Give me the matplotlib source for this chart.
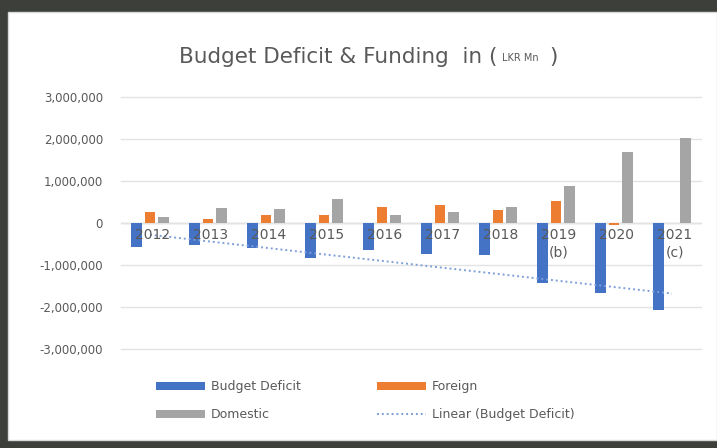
import numpy as np
import matplotlib.pyplot as plt
from matplotlib.patches import Rectangle

years = ["2012", "2013", "2014", "2015", "2016", "2017", "2018", "2019\n(b)", "2020", "2021\n(c)"]
budget_deficit = [-560000, -520000, -590000, -830000, -640000, -730000, -760000, -1440000, -1670000, -2060000]
foreign = [260000, 100000, 190000, 200000, 380000, 420000, 300000, 520000, -50000, 0]
domestic = [140000, 360000, 330000, 570000, 200000, 260000, 380000, 870000, 1700000, 2030000]
yticks = [-3000000, -2000000, -1000000, 0, 1000000, 2000000, 3000000]

blue = '#4472C4'
orange = '#ED7D31'
grey = '#A5A5A5'
txt = '#595959'

fig = plt.figure(figsize=(7.17, 4.48), dpi=100, facecolor='#3c3f3a')
# white chart panel on the dark backdrop
fig.patches.append(Rectangle((8 / 717, 8 / 448), 1 - 8 / 717, 1 - 20 / 448,
                             transform=fig.transFigure, facecolor='white',
                             edgecolor='#d9d9d9', linewidth=1, zorder=-10))

ax = fig.add_axes([121 / 717, 1 - 349 / 448, 580 / 717, 252 / 448])
ax.set_facecolor('none')

x = np.arange(len(years))
w = 0.18
b1 = ax.bar(x - 0.235, budget_deficit, w, color=blue, label='Budget Deficit', zorder=2)
b2 = ax.bar(x, foreign, w, color=orange, label='Foreign', zorder=2)
b3 = ax.bar(x + 0.235, domestic, w, color=grey, label='Domestic', zorder=2)

# linear trend of the deficit
k, b = np.polyfit(x, budget_deficit, 1)
tr, = ax.plot(x, k * x + b, linestyle=(0, (1, 1.5)), color='#7f9fd8', linewidth=1.4,
              label='Linear (Budget Deficit)', zorder=3)

ax.set_xlim(-0.5, len(years) - 0.5)
ax.set_ylim(-3000000, 3000000)
ax.set_yticks(yticks)
ax.set_yticklabels([f"{v:,}" for v in yticks], fontsize=8.5, color=txt)
ax.tick_params(axis='y', length=0, pad=13)
ax.set_xticks([])
ax.grid(axis='y', color='#e3e3e3', linewidth=1, zorder=0)
for gl in ax.get_ygridlines():
    gl.set_clip_on(False)
ax.axhline(0, color='#d0d0d0', linewidth=1, zorder=1)
for s in ax.spines.values():
    s.set_visible(False)

# category labels sit next to the zero line
for xi, lab in zip(x, years):
    ax.text(xi + 0.05, -120000, lab, ha='center', va='top', fontsize=10,
            color=txt, linespacing=1.3, zorder=4)

fig.text(497 / 717, 1 - 57 / 448, "Budget Deficit & Funding  in (", ha='right', va='center',
         fontsize=15.5, color=txt)
fig.text(502 / 717, 1 - 58 / 448, "LKR Mn", ha='left', va='center', fontsize=7, color=txt)
fig.text(549 / 717, 1 - 57 / 448, ")", ha='left', va='center', fontsize=15.5, color=txt)

fig.legend([b1, b3, b2, tr], ['Budget Deficit', 'Domestic', 'Foreign', 'Linear (Budget Deficit)'],
           loc='lower left', bbox_to_anchor=(156 / 717, 1 - 421 / 448), ncol=2,
           frameon=False, fontsize=9, labelcolor=txt, handlelength=3.9,
           handleheight=0.6, columnspacing=6.1, handletextpad=0.5, labelspacing=1.2,
           borderpad=0, borderaxespad=0)

fig.savefig('out.png', dpi=100, facecolor=fig.get_facecolor())
